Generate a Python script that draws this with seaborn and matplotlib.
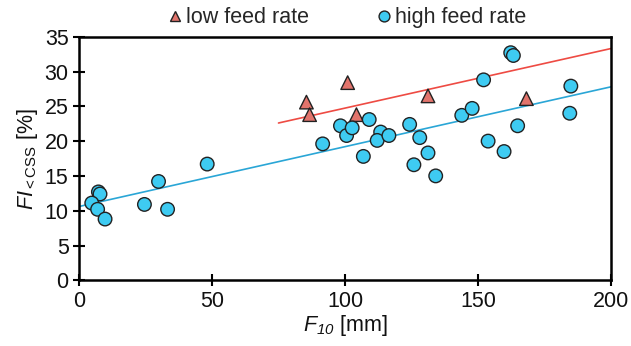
import matplotlib
matplotlib.use("Agg")
import matplotlib.pyplot as plt
import seaborn as sns
import pandas as pd

# --- data -------------------------------------------------------------
low_x = [85.5, 86.7, 101.0, 104.3, 131.2, 168.2]
low_y = [25.6, 23.8, 28.4, 23.8, 26.5, 26.1]

high_x = [7.3, 7.9, 4.8, 7.0, 9.8, 24.6, 29.9, 33.3, 48.2,
          91.6, 98.3, 100.6, 102.7, 109.1, 106.9, 113.4, 112.1, 116.5,
          124.3, 128.1, 131.2, 125.9, 134.1, 143.9, 147.8, 152.1,
          162.3, 163.3, 153.8, 159.8, 164.9, 184.9, 184.5]
high_y = [12.7, 12.4, 11.1, 10.2, 8.8, 10.9, 14.2, 10.2, 16.7,
          19.6, 22.2, 20.8, 21.9, 23.1, 17.8, 21.3, 20.1, 20.8,
          22.4, 20.5, 18.3, 16.6, 15.0, 23.7, 24.7, 28.8,
          32.7, 32.3, 20.0, 18.5, 22.2, 27.9, 24.0]

# fitted trend lines (end points)
fit_low_x = [75, 200]
fit_low_y = [22.6, 33.3]
fit_high_x = [0, 200]
fit_high_y = [10.6, 27.8]

series_names = ["low feed rate", "high feed rate"]
x_ticks = [0, 50, 100, 150, 200]
y_ticks = [0, 5, 10, 15, 20, 25, 30, 35]

# --- styling ------------------------------------------------------------
sns.set_theme(style="white")
plt.rcParams["font.family"] = ["Liberation Sans", "DejaVu Sans"]
plt.rcParams["mathtext.fontset"] = "custom"
plt.rcParams["mathtext.rm"] = "Liberation Sans"
plt.rcParams["mathtext.it"] = "Liberation Sans:italic"
plt.rcParams["mathtext.sf"] = "Liberation Sans:italic"

FS = 15.5

df = pd.DataFrame({
    "x": low_x + high_x,
    "y": low_y + high_y,
    "series": [series_names[0]] * len(low_x) + [series_names[1]] * len(high_x),
})

fig = plt.figure(figsize=(6.31, 3.46), dpi=100)
ax = fig.add_axes([79 / 631, 1 - 280.3 / 346, (611 - 79) / 631, (280.3 - 36.7) / 346])

colors = {series_names[0]: "#E2746C", series_names[1]: "#3ECBF2"}
markers = {series_names[0]: "^", series_names[1]: "o"}

sns.lineplot(x=fit_low_x, y=fit_low_y, ax=ax, color="#EE4B43", lw=1.2, zorder=1)
sns.lineplot(x=fit_high_x, y=fit_high_y, ax=ax, color="#2AA6D6", lw=1.2, zorder=1)

sns.scatterplot(data=df, x="x", y="y", hue="series", style="series",
                palette=colors, markers=markers, s=95, edgecolor="#222222",
                linewidth=1.0, ax=ax, zorder=3, legend=True)

ax.set_xlim(0, 200)
ax.set_ylim(0, 35)
ax.set_xticks(x_ticks)
ax.set_yticks(y_ticks)
ax.tick_params(axis="both", which="major", direction="inout", length=9, width=1.5,
               labelsize=FS, color="black", labelcolor="#111111", pad=3,
               left=True, bottom=True)
for sp in ax.spines.values():
    sp.set_visible(True)
    sp.set_color("black")
    sp.set_linewidth(1.8)

ax.set_xlabel(r"$\mathit{F}_{\mathsf{10}}$ [mm]", fontsize=FS, labelpad=1, color="#111111")
ax.set_ylabel(r"$\mathit{FI}_{\mathrm{<CSS}}$ [%]", fontsize=FS, labelpad=3, color="#111111")

handles, labels = ax.get_legend_handles_labels()
leg = ax.legend(handles, labels, loc="lower center", bbox_to_anchor=(0.5, 1.0),
                ncol=2, frameon=False, fontsize=FS, handletextpad=0.0,
                columnspacing=3.0, markerscale=0.8, handlelength=1.0,
                borderaxespad=0.0)

fig.savefig("out.png", dpi=100)
